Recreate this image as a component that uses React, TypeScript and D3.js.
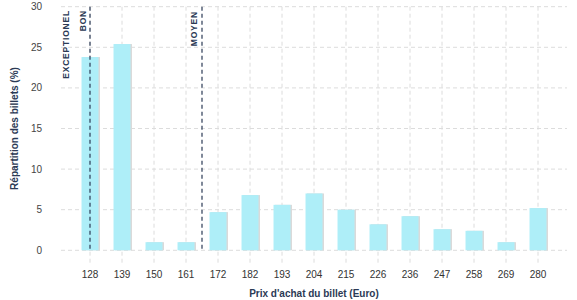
import React from "react";
import * as d3 from "d3";

const categories = ["128","139","150","161","172","182","193","204","215","226","236","247","258","269","280"];
const values = [23.8, 25.4, 1.0, 1.0, 4.7, 6.8, 5.6, 7.0, 5.0, 3.2, 4.2, 2.6, 2.4, 1.0, 5.2];
const yTicks = [0, 5, 10, 15, 20, 25, 30];

export default function App() {
  const W = 577, H = 300;
  const x = d3.scaleBand<string>().domain(categories).range([74, 554]).paddingInner(0.47).paddingOuter(0.235);
  const y = d3.scaleLinear().domain([0, 30]).range([250.3, 6.7]);
  const center = (c: string) => (x(c) as number) + x.bandwidth() / 2;
  const navy = "#2b3a55";
  const font = "'Liberation Sans', Arial, sans-serif";
  const moyenX = (center("161") + center("172")) / 2;
  const bonX = center("128");
  return (
    <svg width={W} height={H} style={{ position: "absolute", left: 0, top: 0, display: "block" }} fontFamily={font}>
      {/* horizontal grid */}
      {yTicks.map((t) => (
        <line key={"h" + t} x1={61} x2={567} y1={y(t)} y2={y(t)} stroke="#dcdcdc" strokeDasharray="4,3" strokeWidth={1} />
      ))}
      {/* vertical grid */}
      {categories.map((c) => (
        <line key={"v" + c} x1={center(c)} x2={center(c)} y1={y(30)} y2={263} stroke="#dcdcdc" strokeDasharray="4,3" strokeWidth={1} />
      ))}
      {/* bars */}
      {categories.map((c, i) => (
        <g key={"b" + c}>
          <rect x={(x(c) as number) + 1.5} y={y(values[i])} width={x.bandwidth()} height={y(0) - y(values[i])} fill="#dadada" />
          <rect x={(x(c) as number)} y={y(values[i])} width={x.bandwidth()} height={y(0) - y(values[i])} fill="#aeeef8" />
        </g>
      ))}
      {/* reference lines */}
      <line x1={bonX} x2={bonX} y1={y(30)} y2={y(0)} stroke={navy} strokeDasharray="4,3" strokeWidth={1.2} />
      <line x1={moyenX} x2={moyenX} y1={y(30)} y2={y(0)} stroke={navy} strokeDasharray="4,3" strokeWidth={1.2} />
      <text transform={`translate(${bonX - 4},10) rotate(-90)`} textAnchor="end" fontSize={8.5} fontWeight="bold" fill={navy} letterSpacing={0.8}>BON</text>
      <text transform={`translate(${bonX - 21},10) rotate(-90)`} textAnchor="end" fontSize={8.5} fontWeight="bold" fill={navy} letterSpacing={0.8}>EXCEPTIONEL</text>
      <text transform={`translate(${moyenX - 5},11) rotate(-90)`} textAnchor="end" fontSize={8.5} fontWeight="bold" fill={navy} letterSpacing={0.8}>MOYEN</text>
      {/* y ticks */}
      {yTicks.map((t) => (
        <text key={"yt" + t} x={42} y={y(t)} dy="0.35em" textAnchor="end" fontSize={10} fill="#444">{t}</text>
      ))}
      {/* x ticks */}
      {categories.map((c) => (
        <text key={"xt" + c} x={center(c)} y={274} dy="0.35em" textAnchor="middle" fontSize={10} fill="#333">{c}</text>
      ))}
      <text transform={`translate(14,${(y(0) + y(30)) / 2}) rotate(-90)`} textAnchor="middle" dy="0.35em" fontSize={10} fontWeight="bold" fill={navy}>Répartition des billets (%)</text>
      <text x={(61 + 567) / 2} y={293} dy="0.35em" textAnchor="middle" fontSize={10} fontWeight="bold" fill={navy}>Prix d'achat du billet (Euro)</text>
    </svg>
  );
}
